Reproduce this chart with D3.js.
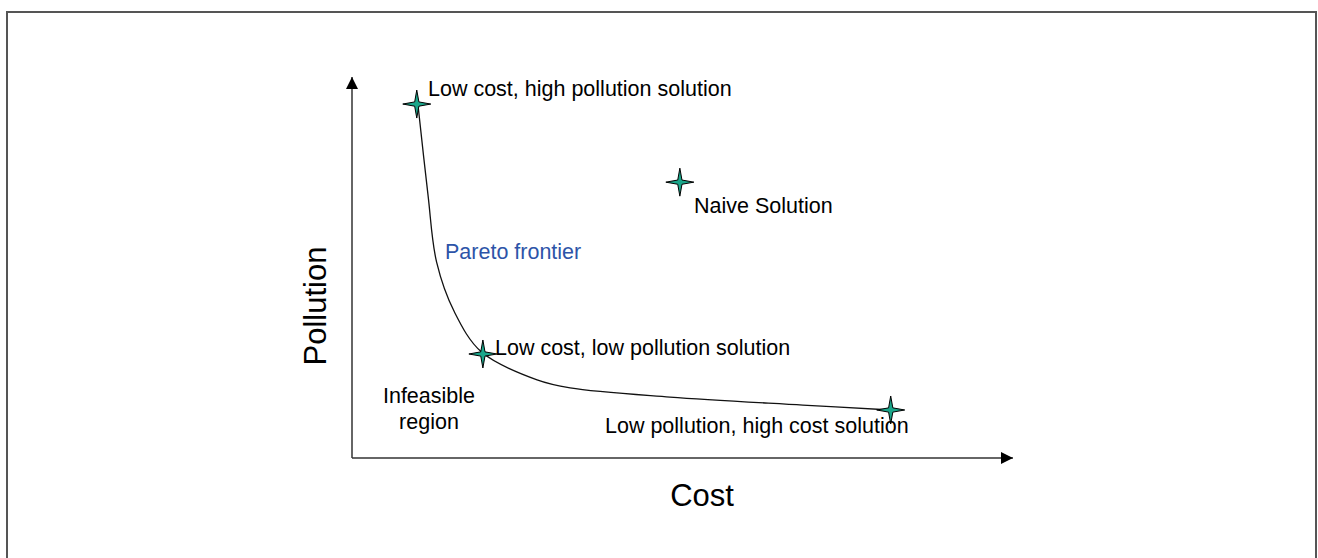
<!DOCTYPE html>
<html>
<head>
<meta charset="utf-8">
<script src="https://cdn.jsdelivr.net/npm/d3@7"></script>
<style>
  body { margin: 0; background: #fff; }
  text { font-family: "Liberation Sans", Arial, sans-serif; fill: #000; }
</style>
</head>
<body>
<script>
var w = 1318;
var h = 558;

// pareto frontier (cost, pollution)
var frontierCost = [1.0, 1.15, 1.28, 1.55, 1.96, 2.8, 3.3, 4.81, 6.82, 8.15];
var frontierPollution = [9.24, 6.9, 5.14, 3.83, 2.78, 2.05, 1.84, 1.6, 1.39, 1.26];

// labelled solutions
var solutionNames = ["Low cost, high pollution solution", "Naive Solution", "Low cost, low pollution solution", "Low pollution, high cost solution"];
var solutionCost = [0.98, 4.96, 1.98, 8.15];
var solutionPollution = [9.29, 7.24, 2.73, 1.26];

var xScale = d3.scaleLinear()
    .domain([0, 10])
    .range([352, 1013]);

var yScale = d3.scaleLinear()
    .domain([0, 10])
    .range([458, 77]);

var svg = d3.select('body').append('svg')
    .attr('width', w)
    .attr('height', h);

// frame
svg.append('rect')
    .attr('x', 7)
    .attr('y', 12)
    .attr('width', 1309)
    .attr('height', 560)
    .attr('fill', 'none')
    .attr('stroke', '#555')
    .attr('stroke-width', 2);

var defs = svg.append('defs');
defs.append('marker')
    .attr('id', 'arrow')
    .attr('viewBox', '0 0 10 10')
    .attr('refX', 10)
    .attr('refY', 5)
    .attr('markerWidth', 12)
    .attr('markerHeight', 12)
    .attr('markerUnits', 'userSpaceOnUse')
    .attr('orient', 'auto')
    .append('path')
    .attr('d', 'M0,0L10,5L0,10Z')
    .attr('fill', '#000');

// axes as arrows
svg.append('line')
    .attr('x1', xScale(0)).attr('y1', yScale(0))
    .attr('x2', xScale(10)).attr('y2', yScale(0))
    .attr('stroke', '#333')
    .attr('stroke-width', 1.5)
    .attr('marker-end', 'url(#arrow)');

svg.append('line')
    .attr('x1', xScale(0)).attr('y1', yScale(0))
    .attr('x2', xScale(0)).attr('y2', yScale(10))
    .attr('stroke', '#333')
    .attr('stroke-width', 1.5)
    .attr('marker-end', 'url(#arrow)');

svg.append('text')
    .attr('x', 702)
    .attr('y', 506)
    .style('font-size', '31px')
    .style('text-anchor', 'middle')
    .text('Cost');

svg.append('text')
    .attr('transform', 'translate(326,306) rotate(-90)')
    .style('font-size', '31px')
    .style('text-anchor', 'middle')
    .text('Pollution');

// frontier curve
var line = d3.line()
    .x(function (d, i) { return xScale(frontierCost[i]); })
    .y(function (d, i) { return yScale(frontierPollution[i]); })
    .curve(d3.curveCatmullRom.alpha(0.5));

svg.append('path')
    .attr('d', line(frontierCost))
    .attr('fill', 'none')
    .attr('stroke', '#111')
    .attr('stroke-width', 1.3);

// four point star markers
function star(R, r) {
    var pts = [];
    for (var k = 0; k < 8; k++) {
        var a = k * Math.PI / 4 - Math.PI / 2;
        var rad = k % 2 == 0 ? R : r;
        pts.push([rad * Math.cos(a), rad * Math.sin(a)]);
    }
    return 'M' + pts.join('L') + 'Z';
}

svg.selectAll('.star')
    .data(solutionNames)
    .enter()
    .append('path')
    .attr('class', 'star')
    .attr('transform', function (d, i) {
        return 'translate(' + xScale(solutionCost[i]) + ',' + yScale(solutionPollution[i]) + ')';
    })
    .attr('d', star(14, 3))
    .attr('fill', '#1aa68a')
    .attr('stroke', '#000')
    .attr('stroke-width', 1);

// labels
var labelPos = [[428, 96], [694, 213], [495, 355], [605, 433]];
svg.selectAll('.lbl')
    .data(solutionNames)
    .enter()
    .append('text')
    .attr('class', 'lbl')
    .attr('x', function (d, i) { return labelPos[i][0]; })
    .attr('y', function (d, i) { return labelPos[i][1]; })
    .style('font-size', '21.5px')
    .text(function (d) { return d; });

svg.append('text')
    .attr('x', 445)
    .attr('y', 259)
    .style('font-size', '21.5px')
    .style('fill', '#2d54a8')
    .text('Pareto frontier');

svg.append('text')
    .attr('x', 429)
    .attr('y', 403)
    .style('font-size', '21.5px')
    .style('text-anchor', 'middle')
    .text('Infeasible');

svg.append('text')
    .attr('x', 429)
    .attr('y', 429)
    .style('font-size', '21.5px')
    .style('text-anchor', 'middle')
    .text('region');
</script>
</body>
</html>
